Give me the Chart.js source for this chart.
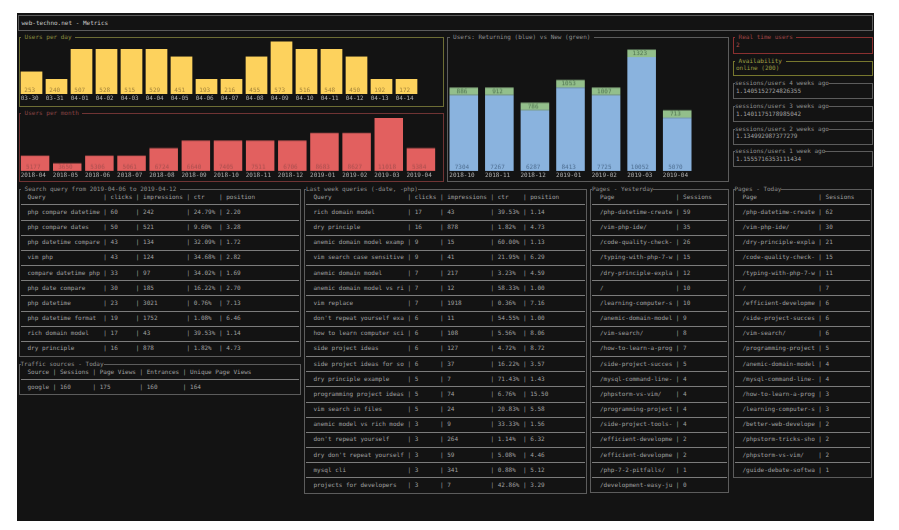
<!DOCTYPE html>
<html>
<head>
<meta charset="utf-8">
<title>web-techno.net - Metrics</title>
<script src="https://cdn.jsdelivr.net/npm/chart.js@4"></script>
<style>
  html, body { margin: 0; padding: 0; background: #fff; width: 899px; height: 530px; overflow: hidden; }
  #screen {
    position: absolute; left: 17px; top: 13px; width: 857px; height: 508px; background: #131313;
    filter: blur(0.55px);
  }
  #screen * { box-sizing: border-box; }
  .panel { position: absolute; border: 1px solid #5c5c5c; }
  .title, .line, .row {
    position: absolute; white-space: pre; font: 6px/9px "DejaVu Sans Mono", monospace;
    text-rendering: geometricPrecision; color: #a0a0a0;
  }
  .title { top: -5px; background: #131313; color: #8f8f8f; }
  .sep { position: absolute; height: 1px; background: #7c7c7c; }
  canvas { position: absolute; }
</style>
</head>
<body>
<div id="screen"></div>
<script>
// bar heights are in terminal rows, the labels hold the real numbers
const dayLabels = ['03-30', '03-31', '04-01', '04-02', '04-03', '04-04', '04-05', '04-06', '04-07', '04-08', '04-09', '04-10', '04-11', '04-12', '04-13', '04-14'];
const dayUsers = [253, 240, 507, 528, 515, 529, 451, 193, 216, 455, 573, 516, 548, 450, 192, 172];
const dayRows = [3, 2, 6, 6, 6, 6, 5, 2, 2, 5, 7, 6, 6, 5, 2, 2];

const monthLabels = ['2018-04', '2018-05', '2018-06', '2018-07', '2018-08', '2018-09', '2018-10', '2018-11', '2018-12', '2019-01', '2019-02', '2019-03', '2019-04'];
const monthUsers = [5177, 3650, 5306, 5061, 6724, 6640, 7405, 7511, 6706, 8683, 8627, 11018, 5384];
const monthRows = [2, 1, 2, 2, 3, 4, 4, 4, 4, 5, 5, 7, 3];

const stackLabels = ['2018-10', '2018-11', '2018-12', '2019-01', '2019-02', '2019-03', '2019-04'];
const returningUsers = [7304, 7267, 6287, 8413, 7725, 10052, 5070];
const newUsers = [886, 912, 786, 1053, 1007, 1323, 713];
const returningRows = [10, 10, 8, 11, 10, 15, 7];
const newRows = [1, 1, 1, 1, 1, 1, 1];

const queryHeader = ['Query', 'clicks', 'impressions', 'ctr', 'position'];
const searchRows = [
  ['php compare datetime', '60', '242', '24.79%', '2.20'],
  ['php compare dates', '50', '521', '9.60%', '3.28'],
  ['php datetime compare', '43', '134', '32.09%', '1.72'],
  ['vim php', '43', '124', '34.68%', '2.82'],
  ['compare datetime php', '33', '97', '34.02%', '1.69'],
  ['php date compare', '30', '185', '16.22%', '2.70'],
  ['php datetime', '23', '3021', '0.76%', '7.13'],
  ['php datetime format', '19', '1752', '1.08%', '6.46'],
  ['rich domain model', '17', '43', '39.53%', '1.14'],
  ['dry principle', '16', '878', '1.82%', '4.73']
];
const lastWeekRows = [
  ['rich domain model', '17', '43', '39.53%', '1.14'],
  ['dry principle', '16', '878', '1.82%', '4.73'],
  ['anemic domain model examp', '9', '15', '60.00%', '1.13'],
  ['vim search case sensitive', '9', '41', '21.95%', '6.29'],
  ['anemic domain model', '7', '217', '3.23%', '4.59'],
  ['anemic domain model vs ri', '7', '12', '58.33%', '1.00'],
  ['vim replace', '7', '1918', '0.36%', '7.16'],
  ["don't repeat yourself exa", '6', '11', '54.55%', '1.00'],
  ['how to learn computer sci', '6', '108', '5.56%', '8.06'],
  ['side project ideas', '6', '127', '4.72%', '8.72'],
  ['side project ideas for so', '6', '37', '16.22%', '3.57'],
  ['dry principle example', '5', '7', '71.43%', '1.43'],
  ['programming project ideas', '5', '74', '6.76%', '15.50'],
  ['vim search in files', '5', '24', '20.83%', '5.58'],
  ['anemic model vs rich mode', '3', '9', '33.33%', '1.56'],
  ["don't repeat yourself", '3', '264', '1.14%', '6.32'],
  ["dry don't repeat yourself", '3', '59', '5.08%', '4.46'],
  ['mysql cli', '3', '341', '0.88%', '5.12'],
  ['projects for developers', '3', '7', '42.86%', '3.29']
];
const trafficHeader = ['Source', 'Sessions', 'Page Views', 'Entrances', 'Unique Page Views'];
const trafficRows = [['google', '160', '175', '160', '164']];

const pageHeader = ['Page', 'Sessions'];
const yesterdayRows = [
  ['/php-datetime-create', '59'], ['/vim-php-ide/', '35'], ['/code-quality-check-', '26'],
  ['/typing-with-php-7-w', '15'], ['/dry-principle-expla', '12'], ['/', '10'],
  ['/learning-computer-s', '10'], ['/anemic-domain-model', '9'], ['/vim-search/', '8'],
  ['/how-to-learn-a-prog', '7'], ['/side-project-succes', '5'], ['/mysql-command-line-', '4'],
  ['/phpstorm-vs-vim/', '4'], ['/programming-project', '4'], ['/side-project-tools-', '4'],
  ['/efficient-developme', '2'], ['/efficient-developme', '2'], ['/php-7-2-pitfalls/', '1'],
  ['/development-easy-ju', '0']
];
const todayRows = [
  ['/php-datetime-create', '62'], ['/vim-php-ide/', '30'], ['/dry-principle-expla', '21'],
  ['/code-quality-check-', '15'], ['/typing-with-php-7-w', '11'], ['/', '7'],
  ['/efficient-developme', '6'], ['/side-project-succes', '6'], ['/vim-search/', '6'],
  ['/programming-project', '5'], ['/anemic-domain-model', '4'], ['/mysql-command-line-', '4'],
  ['/how-to-learn-a-prog', '3'], ['/learning-computer-s', '3'], ['/better-web-develope', '2'],
  ['/phpstorm-tricks-sho', '2'], ['/phpstorm-vs-vim/', '2'], ['/guide-debate-softwa', '1']
];

const screen = document.getElementById('screen');
const OX = 17, OY = 13; // screen offset on the page

function makePanel(x, y, w, h, title, titleX, border, titleColor) {
  const p = document.createElement('div');
  p.className = 'panel';
  p.style.cssText = `left:${x - OX}px;top:${y - OY}px;width:${w}px;height:${h}px;` + (border ? `border-color:${border};` : '');
  if (title) {
    const t = document.createElement('span');
    t.className = 'title';
    t.textContent = title;
    t.style.left = titleX + 'px';
    if (titleColor) t.style.color = titleColor;
    p.appendChild(t);
  }
  screen.appendChild(p);
  return p;
}

function addText(p, text, x, y, color) {
  const d = document.createElement('div');
  d.className = 'row';
  d.textContent = text;
  d.style.left = x + 'px';
  d.style.top = y + 'px';
  if (color) d.style.color = color;
  p.appendChild(d);
}

function makeTable(p, w, header, rows, widths, textX) {
  const fmt = (cells) => cells.map((c, i) => c.slice(0, widths[i]).padEnd(widths[i])).join(' | ');
  const all = [header, ...rows];
  all.forEach((r, i) => {
    addText(p, fmt(r), textX, 2.7 + i * 15.17);
    if (i < all.length - 1) {
      const s = document.createElement('div');
      s.className = 'sep';
      s.style.cssText = `left:1px;width:${w - 4}px;top:${14.4 + i * 15.17}px;`;
      p.appendChild(s);
    }
  });
}

// value labels sit inside the bars, near the base (or centred for the top segment)
const barText = {
  id: 'barText',
  afterDatasetsDraw(chart) {
    const ctx = chart.ctx;
    ctx.save();
    ctx.font = '6px "DejaVu Sans Mono", monospace';
    ctx.textAlign = 'center';
    ctx.textBaseline = 'middle';
    chart.data.datasets.forEach((ds, di) => {
      chart.getDatasetMeta(di).data.forEach((bar, i) => {
        const y = ds.labelMid ? (bar.y + bar.base) / 2 : bar.base - 3.6;
        ctx.fillStyle = ds.labelColor;
        ctx.fillText(String(ds.labelValues[i]), bar.x - 1.8, y);
      });
    });
    ctx.restore();
  }
};

function makeBars(x, y, width, plotH, rowPx, labels, datasets, barW) {
  const canvas = document.createElement('canvas');
  canvas.width = width;
  canvas.height = plotH + 11;
  canvas.style.cssText = `left:${x - OX}px;top:${y - OY}px;width:${width}px;height:${plotH + 11}px;`;
  screen.appendChild(canvas);
  return new Chart(canvas.getContext('2d'), {
    type: 'bar',
    data: {
      labels: labels,
      datasets: datasets.map((d) => ({
        ...d,
        borderWidth: 0,
        categoryPercentage: 1,
        barPercentage: barW / (width / labels.length)
      }))
    },
    options: {
      responsive: false,
      animation: false,
      devicePixelRatio: 1,
      layout: { padding: 0 },
      plugins: { legend: { display: false }, tooltip: { enabled: false } },
      scales: {
        x: {
          stacked: true,
          grid: { display: false, drawTicks: false },
          border: { display: false },
          afterFit: (axis) => { axis.height = 11; },
          ticks: {
            color: '#b0b0b0',
            font: { family: '"DejaVu Sans Mono", monospace', size: 6 },
            padding: 1,
            labelOffset: -1.8,
            autoSkip: false,
            maxRotation: 0
          }
        },
        y: { stacked: true, display: false, min: 0, max: plotH / rowPx }
      }
    },
    plugins: [barText]
  });
}

// title bar
const top0 = makePanel(17.5, 15, 855, 15.5);
addText(top0, 'web-techno.net - Metrics', 3, 2.5, '#c8c8c8');

// top left charts
makePanel(18.5, 37, 425.5, 70, ' Users per day ', 1.5, '#6d6d35', '#8d8d3f');
makeBars(19, 38, 400, 56.3, 7.53, dayLabels, [
  { data: dayRows, backgroundColor: '#fdd25d', labelValues: dayUsers, labelColor: '#a5843a' }
], 21.7);

makePanel(18.5, 113, 425.5, 69, ' Users per month ', 1.5, '#703434', '#8a4545');
makeBars(19, 118, 418, 52.7, 7.55, monthLabels, [
  { data: monthRows, backgroundColor: '#e2605f', labelValues: monthUsers, labelColor: '#a84f4f' }
], 28.5);

makePanel(447, 37, 282, 145, ' Users: Returning (blue) vs New (green) ', 1.5, '#5c5c5c', '#8f8f8f');
makeBars(445.5, 42, 249, 128.7, 7.57, stackLabels, [
  { data: returningRows, backgroundColor: '#8ab3de', labelValues: returningUsers, labelColor: '#4f6f92' },
  { data: newRows, backgroundColor: '#93bf8b', labelValues: newUsers, labelColor: '#4f7350', labelMid: true }
], 28.6);

// right hand boxes
const rtBox = makePanel(732.5, 37, 140, 16.5, ' Real time users ', 1.5, '#8a3030', '#a04545');
addText(rtBox, '2', 2.5, 3, '#b04a4a');
const availBox = makePanel(732.5, 60.5, 140, 15.5, ' Availability ', 1.5, '#77772e', '#a0a045');
addText(availBox, 'online (200)', 2.5, 2.5, '#9a9a40');
const ratioBoxes = [
  ['sessions/users 4 weeks ago', '1.1405152724826355', 83],
  ['sessions/users 3 weeks ago', '1.1401175178985042', 106],
  ['sessions/users 2 weeks ago', '1.134992987377279', 128.5],
  ['sessions/users 1 week ago', '1.1555716353111434', 151]
];
ratioBoxes.forEach(([title, value, y]) => {
  const b = makePanel(732.5, y, 140, 16, title, 1.5);
  addText(b, value, 2.5, 2.5);
});

// tables
const searchBox = makePanel(18.5, 189, 282, 168, ' Search query from 2019-04-06 to 2019-04-12 ', 1.5);
makeTable(searchBox, 282, queryHeader, searchRows, [20, 6, 11, 6, 8], 8);

const trafficBox = makePanel(18.5, 364, 282, 30.5, 'Traffic sources - Today', 1);
makeTable(trafficBox, 282, trafficHeader, trafficRows, [6, 8, 10, 9, 17], 8);

const lastWeekBox = makePanel(304, 189, 283, 304.5, 'Last week queries (-date, -php)', 1);
makeTable(lastWeekBox, 283, queryHeader, lastWeekRows, [25, 6, 11, 6, 8], 8.5);

const yesterdayBox = makePanel(590, 189, 139, 304, 'Pages - Yesterday', 1);
makeTable(yesterdayBox, 139, pageHeader, yesterdayRows, [20, 8], 9);

const todayBox = makePanel(732.5, 189, 139.5, 289, 'Pages - Today', 1);
makeTable(todayBox, 139.5, pageHeader, todayRows, [20, 8], 9);
</script>
</body>
</html>
